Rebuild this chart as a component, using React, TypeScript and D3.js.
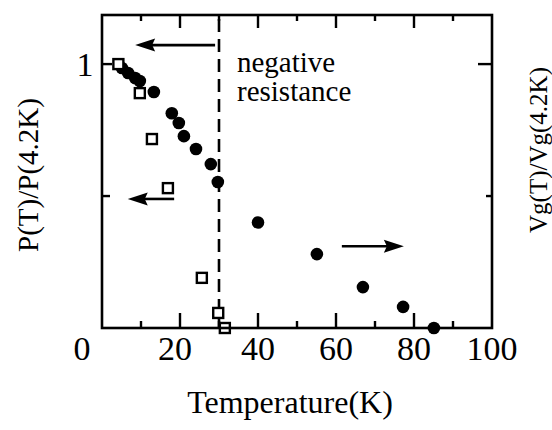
import React, { useEffect, useRef } from "react";
import * as d3 from "d3";

// P(T)/P(4.2K) — open squares (left axis)
const powerTemp = [4.2, 9.7, 12.8, 16.9, 25.6, 29.8, 31.5];
const powerRatio = [1.0, 0.89, 0.716, 0.53, 0.19, 0.057, 0.0];

// Vg(T)/Vg(4.2K) — filled circles (right axis)
const vgTemp = [5.1, 6.7, 8.5, 9.7, 13.3, 17.9, 19.7, 21.0, 24.1, 27.9, 29.7, 40, 55.1, 66.9, 77.2, 85.1];
const vgRatio = [0.985, 0.966, 0.947, 0.936, 0.894, 0.814, 0.777, 0.727, 0.678, 0.621, 0.553, 0.4, 0.28, 0.155, 0.08, 0.0];

const xTickLabels = [0, 20, 40, 60, 80, 100];
const xMinorTicks = [10, 30, 50, 70, 90];
const leftYTickLabels = [1];
const yTicks = [0.5, 1];

const boundaryTemp = 30; // negative resistance boundary
const annotationLines = ["negative", "resistance"];

// arrows: [fromT, toT, value]
const arrowFrom = [29, 18.5, 61.5];
const arrowTo = [8.5, 6.6, 77.4];
const arrowLevel = [1.072, 0.489, 0.31];

const W = 552;
const H = 430;
const left = 102;
const right = 492;
const top = 15;
const bottom = 328;
const FF = "Liberation Serif";

function T(props: any) {
  const { children, ...rest } = props;
  return (
    <text className="serif-lbl" fontFamily={FF} fill="#000" {...rest}>
      {children}
    </text>
  );
}

export default function App() {
  const ref = useRef<SVGSVGElement>(null);
  const x = d3.scaleLinear().domain([0, 100]).range([left, right]);
  const y = d3.scaleLinear().domain([0, 1.186]).range([bottom, top]);
  const yR = d3.scaleLinear().domain([0, 1.186]).range([bottom, top]);

  useEffect(() => {
    if (!ref.current) return;
    d3.select(ref.current)
      .selectAll<SVGTextElement, unknown>("text")
      .each(function () {
        this.style.setProperty("font-family", "'Liberation Serif', serif", "important");
      });
  }, []);

  const sq = 10;
  const r = 6.3;

  const arrows = arrowFrom.map((f, i) => {
    const x0 = x(f);
    const x1 = x(arrowTo[i]);
    const yy = y(arrowLevel[i]);
    const dir = x1 > x0 ? 1 : -1;
    const hl = 20;
    const hw = 6.5;
    return { x0, x1, yy, dir, hl, hw };
  });

  const labelDx = (v: number) => (v === 0 ? -20 : v === 20 ? -5 : 0);

  return (
    <svg ref={ref} width={W} height={H} style={{ position: "absolute", left: 0, top: 0 }}>
      <style>{`svg text.serif-lbl { font-family: 'Liberation Serif', serif !important; }`}</style>
      {/* dashed boundary */}
      <line
        x1={x(boundaryTemp)}
        x2={x(boundaryTemp)}
        y1={top + 4}
        y2={bottom}
        stroke="#000"
        strokeWidth={2.6}
        strokeDasharray="13,7"
      />
      {/* arrows */}
      {arrows.map((a, i) => (
        <g key={"a" + i}>
          <line x1={a.x0} x2={a.x1 - a.dir * a.hl * 0.8} y1={a.yy} y2={a.yy} stroke="#000" strokeWidth={2.6} />
          <path
            d={`M${a.x1},${a.yy} L${a.x1 - a.dir * a.hl},${a.yy - a.hw} L${a.x1 - a.dir * a.hl * 0.85},${a.yy} L${a.x1 - a.dir * a.hl},${a.yy + a.hw} Z`}
            fill="#000"
          />
        </g>
      ))}
      {/* circles */}
      {vgTemp.map((t, i) => (
        <circle key={"c" + i} cx={x(t)} cy={yR(vgRatio[i])} r={r} fill="#000" />
      ))}
      {/* squares */}
      {powerTemp.map((t, i) => (
        <rect
          key={"s" + i}
          x={x(t) - sq / 2}
          y={y(powerRatio[i]) - sq / 2}
          width={sq}
          height={sq}
          fill="#fff"
          stroke="#000"
          strokeWidth={2.4}
        />
      ))}
      {/* frame */}
      <rect x={left} y={top} width={right - left} height={bottom - top} fill="none" stroke="#000" strokeWidth={2.6} />
      {/* bottom ticks */}
      {xTickLabels.slice(1, -1).map((v) => (
        <line key={"bt" + v} x1={x(v)} x2={x(v)} y1={bottom} y2={bottom - 15} stroke="#000" strokeWidth={2.4} />
      ))}
      {xMinorTicks.map((v) => (
        <line key={"bm" + v} x1={x(v)} x2={x(v)} y1={bottom} y2={bottom - 7} stroke="#000" strokeWidth={2.4} />
      ))}
      {/* top ticks */}
      {xTickLabels.slice(1, -1).map((v) => (
        <line key={"tt" + v} x1={x(v)} x2={x(v)} y1={top} y2={top + 13} stroke="#000" strokeWidth={2.4} />
      ))}
      {xMinorTicks.map((v) => (
        <line key={"tm" + v} x1={x(v)} x2={x(v)} y1={top} y2={top + 6} stroke="#000" strokeWidth={2.4} />
      ))}
      {/* left ticks */}
      {yTicks.map((v) => (
        <line key={"lt" + v} x1={left} x2={left + (v === 1 ? 10 : 8)} y1={y(v)} y2={y(v)} stroke="#000" strokeWidth={2.4} />
      ))}
      {/* right ticks */}
      {yTicks.map((v) => (
        <line key={"rt" + v} x1={right} x2={right - (v === 1 ? 14 : 6)} y1={yR(v)} y2={yR(v)} stroke="#000" strokeWidth={2.4} />
      ))}
      {/* x tick labels */}
      {xTickLabels.map((v) => (
        <T key={"xl" + v} x={x(v) + labelDx(v)} y={360} textAnchor="middle" fontSize={34}>
          {String(v)}
        </T>
      ))}
      {/* left y tick labels */}
      {leftYTickLabels.map((v) => (
        <T key={"yl" + v} x={85} y={y(v) + 12} textAnchor="middle" fontSize={34}>
          {String(v)}
        </T>
      ))}
      {/* annotation */}
      {annotationLines.map((s, i) => (
        <T key={"an" + i} x={237} y={72 + i * 29} fontSize={29}>
          {s}
        </T>
      ))}
      {/* axis titles */}
      <T x={290} y={413} textAnchor="middle" fontSize={32}>
        Temperature(K)
      </T>
      <T transform="translate(38,175) rotate(-90)" textAnchor="middle" fontSize={29}>
        P(T)/P(4.2K)
      </T>
      <T transform="translate(547,150) rotate(-90)" textAnchor="middle" fontSize={25}>
        Vg(T)/Vg(4.2K)
      </T>
    </svg>
  );
}
